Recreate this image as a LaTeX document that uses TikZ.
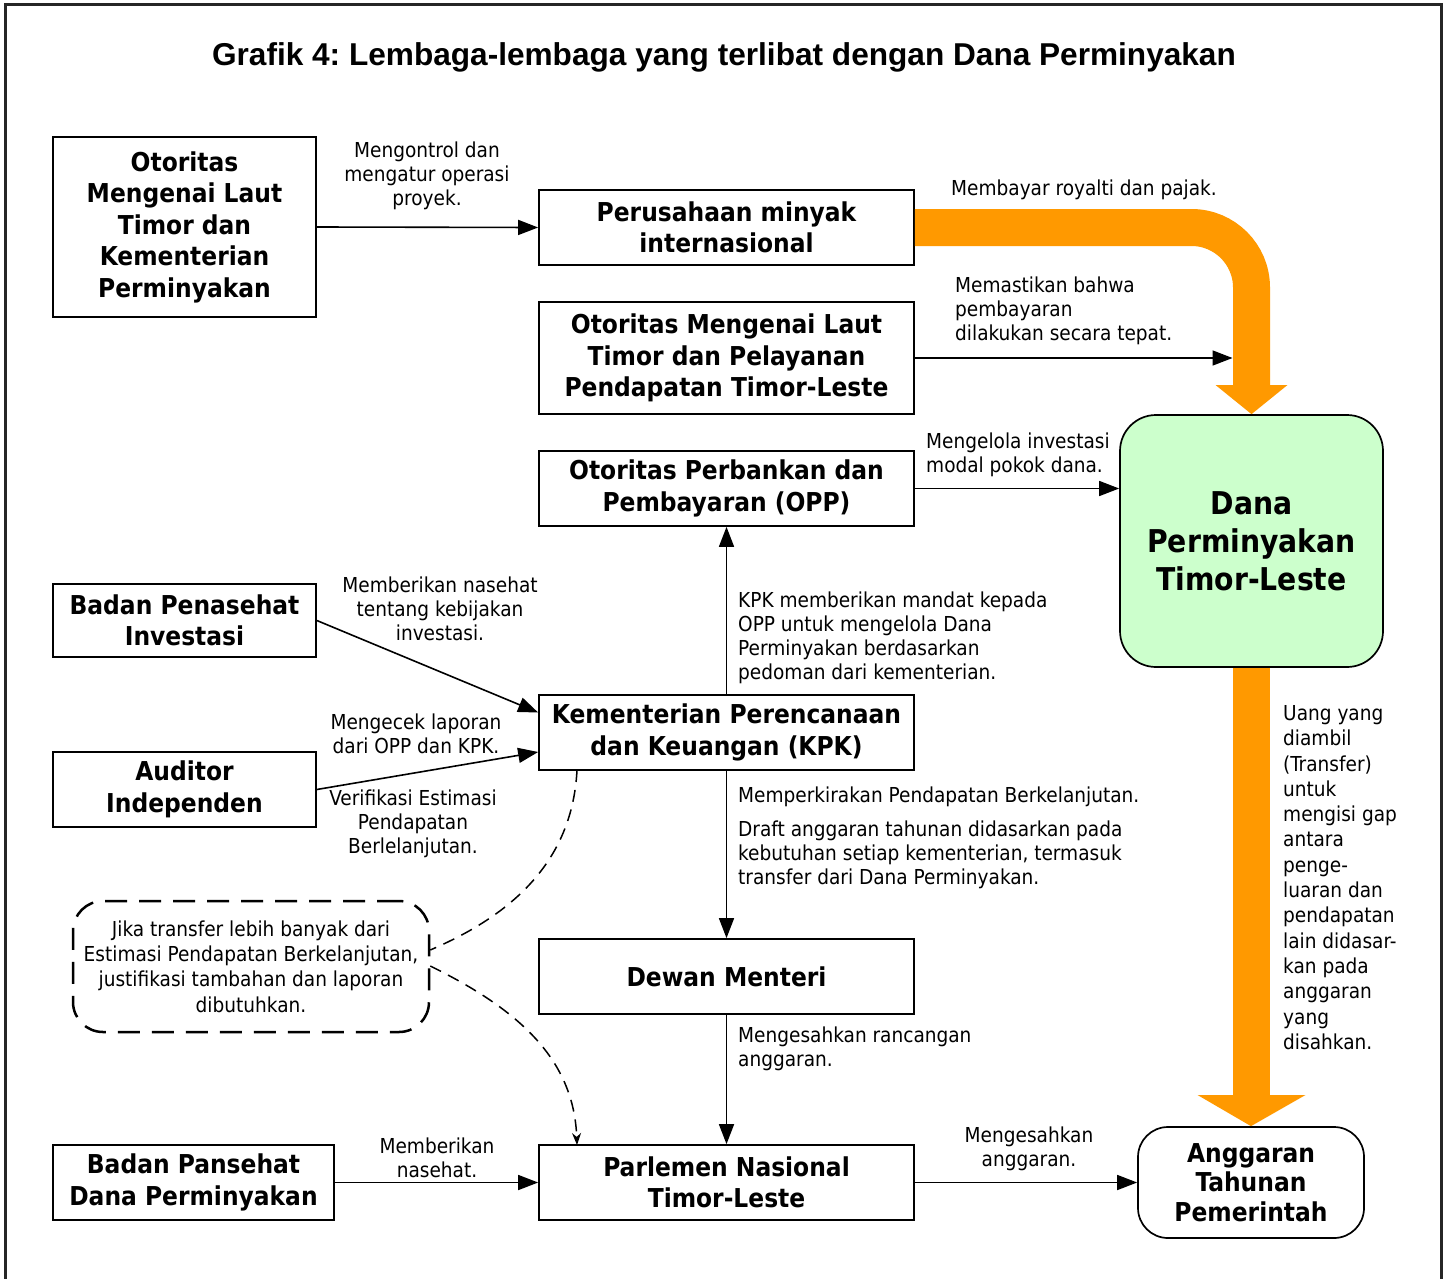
\documentclass[tikz,border=0pt]{standalone}
\usepackage{fontspec}
\setmainfont{DejaVu Sans Condensed}
\newfontfamily\titlefont{Liberation Sans}
\usetikzlibrary{arrows.meta,calc}
\definecolor{orangeC}{RGB}{255,153,0}
\definecolor{greenC}{RGB}{204,255,204}
\frenchspacing
\begin{document}
\begin{tikzpicture}[x=1pt,y=-1pt,
  box/.style={draw, line width=1.7pt, inner sep=0pt, align=center,
    font=\fontsize{26}{31.5}\selectfont\bfseries},
  lbl/.style={inner sep=0pt, font=\fontsize{20.6}{24}\selectfont},
  conn/.style={line width=1.6pt, -{Triangle[length=20pt,width=15pt]}},
  dashconn/.style={line width=1.5pt, dash pattern=on 12pt off 8pt},
  band/.style={line width=37pt, draw=orangeC}
]
\useasboundingbox (0,0) rectangle (1448,1279);
% frame
\draw[line width=3pt, black!85] (5,1279) -- (5,5) -- (1441,5) -- (1441,1279);

% title
\node[inner sep=0pt, font=\titlefont\fontsize{31.6}{36}\selectfont\bfseries] (title) at (724,57)
  {Grafik 4: Lembaga-lembaga yang terlibat dengan Dana Perminyakan};

% boxes
\node[box, minimum width=263pt, minimum height=180pt] (A) at (184.5,227)
  {Otoritas\\Mengenai Laut\\Timor dan\\Kementerian\\Perminyakan};
\node[box, minimum width=375pt, minimum height=75pt] (B) at (726.5,227.5)
  {Perusahaan minyak\\internasional};
\node[box, minimum width=375pt, minimum height=112pt] (C) at (726.5,358)
  {Otoritas Mengenai Laut\\Timor dan Pelayanan\\Pendapatan Timor-Leste};
\node[box, minimum width=375pt, minimum height=75pt] (OPP) at (726.5,488.5)
  {Otoritas Perbankan dan\\Pembayaran (OPP)};
\node[box, fill=greenC, rounded corners=36pt, minimum width=263pt, minimum height=252pt,
  font=\fontsize{31.4}{38}\selectfont\bfseries] (Dana) at (1251.5,541)
  {Dana\\Perminyakan\\Timor-Leste};
\node[box, minimum width=263pt, minimum height=73pt] (BPI) at (184.5,620.5)
  {Badan Penasehat\\Investasi};
\node[box, minimum width=263pt, minimum height=75pt] (AUD) at (184.5,789.5)
  {Auditor\\Independen};
\node[box, minimum width=375pt, minimum height=75pt] (KPK) at (726.5,732.5)
  {Kementerian Perencanaan\\dan Keuangan (KPK)};
\node[box, minimum width=375pt, minimum height=75pt] (DM) at (726.5,976.5)
  {Dewan Menteri};
\node[box, minimum width=375pt, minimum height=75pt] (PN) at (726.5,1182.5)
  {Parlemen Nasional\\Timor-Leste};
\node[box, minimum width=281pt, minimum height=75pt] (BPDP) at (193.5,1182.5)
  {Badan Pansehat\\Dana Perminyakan};
\node[box, rounded corners=30pt, minimum width=226pt, minimum height=111pt,
  font=\fontsize{26}{29.5}\selectfont\bfseries] (ANG) at (1251,1182.5)
  {Anggaran\\Tahunan\\Pemerintah};
\node[draw, line width=2.5pt, dash pattern=on 22pt off 12pt, rounded corners=30pt,
  minimum width=356pt, minimum height=131pt, inner sep=0pt, align=center,
  font=\fontsize{20.6}{25.3}\selectfont] (NOTE) at (251,966.5)
  {Jika transfer lebih banyak dari\\Estimasi Pendapatan Berkelanjutan,\\justifikasi tambahan dan laporan\\dibutuhkan.};

% orange bands
\coordinate (bandTopEnd) at (1251.5,385);
\coordinate (bandBotEnd) at (1251.5,1095);
\draw[band, rounded corners=60pt] (B.east) -| (bandTopEnd);
\fill[orangeC] (1215.5,385) -- (1287.5,385) -- (Dana.north) -- cycle;
\draw[band] (Dana.south) -- (bandBotEnd);
\fill[orangeC] (1197.5,1095) -- (1305.5,1095) -- (ANG.north) -- cycle;
\coordinate (bandL) at (1232.5,358);

% connectors
\draw[conn] (A.east) -- (B.west);
\draw[conn] (C.east) -- (bandL);
\draw[conn] (OPP.east) -- (OPP.east -| Dana.west);
\draw[conn] (KPK.north) -- (OPP.south);
\draw[conn] (BPI.east) -- ($(KPK.west)+(0,-20)$);
\draw[conn] (AUD.east) -- ($(KPK.west)+(0,19.5)$);
\draw[conn] (KPK.south) -- (DM.north);
\draw[conn] (DM.south) -- (PN.north);
\draw[conn] (BPDP.east) -- (PN.west);
\draw[conn] (PN.east) -- (ANG.west);

% dashed curves
\coordinate (kpkD) at (577,770);
\coordinate (pnD) at (577,1145);
\draw[dashconn] (kpkD) .. controls (572,870) and (500,920) .. (NOTE.east |- 0,950);
\draw[dashconn, -{Stealth[length=12pt,width=9pt]}] (NOTE.east |- 0,966) .. controls (520,1010) and (574,1060) .. (pnD);

% labels
\node[lbl, align=center] (l1) at (427,176) {Mengontrol dan\\mengatur operasi\\proyek.};
\node[lbl, anchor=west] (l2) at (951,190) {Membayar royalti dan pajak.};
\node[lbl, anchor=west, align=left] (l3) at (955,311) {Memastikan bahwa\\pembayaran\\dilakukan secara tepat.};
\node[lbl, anchor=west, align=left] (l4) at (926,455) {Mengelola investasi\\modal pokok dana.};
\node[lbl, anchor=west, align=left] (l5) at (738,637.5) {KPK memberikan mandat kepada\\OPP untuk mengelola Dana\\Perminyakan berdasarkan\\pedoman dari kementerian.};
\node[lbl, align=center] (l6) at (440,609) {Memberikan nasehat\\tentang kebijakan\\investasi.};
\node[lbl, align=center] (l7) at (416,734) {Mengecek laporan\\dari OPP dan KPK.};
\node[lbl, align=center] (l8) at (413,824) {Verifikasi Estimasi\\Pendapatan\\Berlelanjutan.};
\node[lbl, anchor=west] (l9) at (738,797) {Memperkirakan Pendapatan Berkelanjutan.};
\node[lbl, anchor=west, align=left] (l10) at (738,855) {Draft anggaran tahunan didasarkan pada\\kebutuhan setiap kementerian, termasuk\\transfer dari Dana Perminyakan.};
\node[lbl, anchor=west, align=left] (l11) at (738,1048.5) {Mengesahkan rancangan\\anggaran.};
\node[lbl, align=center] (l12) at (437,1157.5) {Memberikan\\nasehat.};
\node[lbl, align=center] (l13) at (1029,1148.5) {Mengesahkan\\anggaran.};
\node[lbl, anchor=west, align=left, font=\fontsize{20.6}{25.3}\selectfont] (l14) at (1283,877.5)
  {Uang yang\\diambil\\(Transfer)\\untuk\\mengisi gap\\antara\\penge-\\luaran dan\\pendapatan\\lain didasar-\\kan pada\\anggaran\\yang\\disahkan.};
\end{tikzpicture}
\end{document}
